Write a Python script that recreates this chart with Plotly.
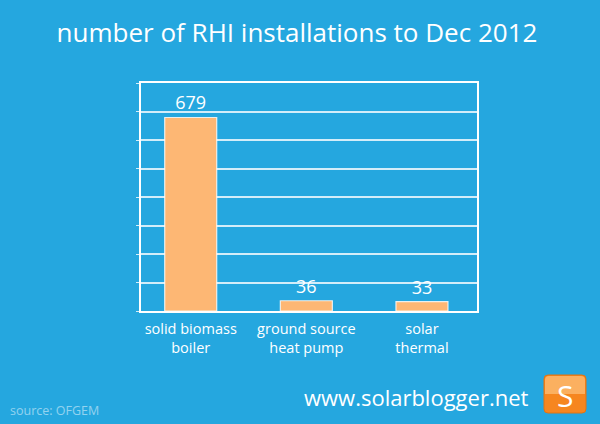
import plotly.graph_objects as go

# data
categories = ["solid biomass<br>boiler", "ground source<br>heat pump", "solar<br>thermal"]
installs = [679, 36, 33]
y_ticks = [0, 100, 200, 300, 400, 500, 600, 700, 800]

bg = "#25a7df"
bar_col = "#fdb774"
font_name = "Open Sans"

W, H = 600, 424
L, R, T, B = 141, 123, 83, 113
pw, ph = W - L - R, H - T - B


# pixel position -> paper coordinates (paper = plot area)
def px(x):
    return (x - L) / pw


def py(y):
    return (H - B - y) / ph


xs = list(range(len(categories)))

fig = go.Figure()
fig.add_trace(go.Bar(
    x=xs,
    y=installs,
    width=0.45,
    marker=dict(color=bar_col, line=dict(color="rgba(255,255,255,0.8)", width=1.2)),
    text=[str(v) for v in installs],
    textposition="outside",
    textfont=dict(family=font_name, size=18, color="white"),
    cliponaxis=False,
))

fig.update_layout(
    width=W, height=H,
    paper_bgcolor=bg, plot_bgcolor=bg,
    margin=dict(l=L, r=R, t=T, b=B),
    showlegend=False,
    font=dict(family=font_name, color="white"),
    title=dict(text="number of RHI installations to Dec 2012", x=0.495, xanchor="center",
               y=1 - 33 / H, yanchor="middle", font=dict(size=26, color="white")),
)
fig.update_xaxes(
    range=[-0.43, 2.476], tickvals=xs, ticktext=categories,
    showline=True, linecolor="white", linewidth=2, mirror=True,
    showgrid=False, ticks="", tickfont=dict(size=14.5, color="white"),
    ticklabelstandoff=4,
)
fig.update_yaxes(
    range=[0, 800], tickvals=y_ticks, showticklabels=False,
    showline=True, linecolor="white", linewidth=2, mirror=True,
    showgrid=True, gridcolor="rgba(255,255,255,0.8)", gridwidth=1.5,
    ticks="outside", ticklen=3, tickcolor="rgba(255,255,255,0.8)", zeroline=False,
)

# footer text
fig.add_annotation(text="www.solarblogger.net", x=px(416), y=py(397), xref="paper", yref="paper",
                   xanchor="center", yanchor="middle", showarrow=False,
                   font=dict(size=22, color="white"))
fig.add_annotation(text="source: OFGEM", x=px(8), y=py(410), xref="paper", yref="paper",
                   xanchor="left", yanchor="middle", showarrow=False,
                   font=dict(size=12.5, color="rgba(255,255,255,0.5)"))


# "S" logo: rounded orange square with lighter top half
def rounded(x0, y0, x1, y1, r):
    return (f"M{px(x0 + r)},{py(y0)} L{px(x1 - r)},{py(y0)} Q{px(x1)},{py(y0)} {px(x1)},{py(y0 + r)} "
            f"L{px(x1)},{py(y1 - r)} Q{px(x1)},{py(y1)} {px(x1 - r)},{py(y1)} "
            f"L{px(x0 + r)},{py(y1)} Q{px(x0)},{py(y1)} {px(x0)},{py(y1 - r)} "
            f"L{px(x0)},{py(y0 + r)} Q{px(x0)},{py(y0)} {px(x0 + r)},{py(y0)} Z")


fig.add_shape(type="path", xref="paper", yref="paper",
              path=rounded(544, 375, 586, 413, 4),
              fillcolor="#f6861f", line=dict(color="#e07412", width=1), layer="above")
fig.add_shape(type="path", xref="paper", yref="paper",
              path=(f"M{px(545)},{py(394)} L{px(545)},{py(380)} Q{px(545)},{py(376)} {px(549)},{py(376)} "
                    f"L{px(581)},{py(376)} Q{px(585)},{py(376)} {px(585)},{py(380)} L{px(585)},{py(394)} Z"),
              fillcolor="#fbb060", line=dict(width=0), layer="above")
fig.add_annotation(text="S", x=px(565), y=py(395), xref="paper", yref="paper",
                   xanchor="center", yanchor="middle", showarrow=False,
                   font=dict(size=30, color="white"))

fig.write_html("out.html", config={"displayModeBar": False},
               post_script="document.body.style.margin='0';")
